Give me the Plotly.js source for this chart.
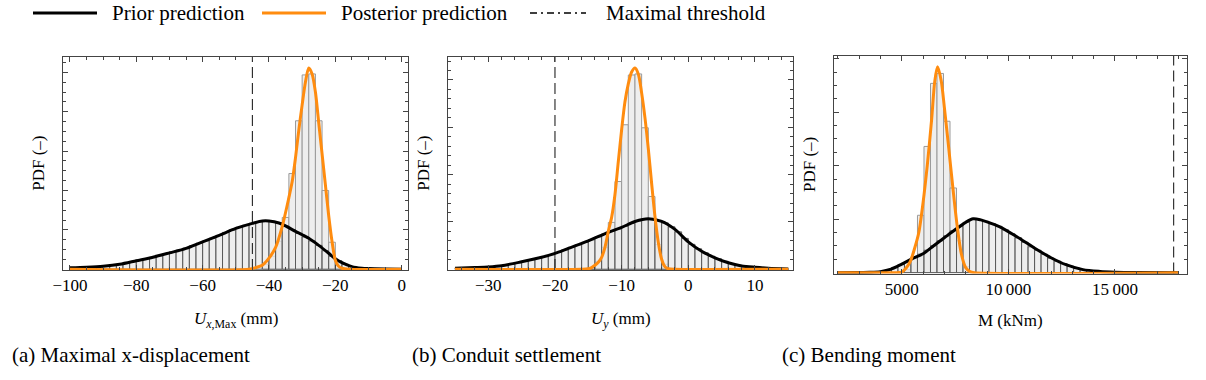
<!DOCTYPE html>
<html>
<head>
<meta charset="utf-8">
<script src="https://cdn.plot.ly/plotly-3.0.1.min.js"></script>
<style>html,body{margin:0;padding:0;background:#fff;}#chart{width:1206px;height:380px;}</style>
</head>
<body>
<div id="chart"></div>
<script>
// ---------- Panel (a): maximal x-displacement U_x,Max (mm) ----------
const aPriorX = [-100,-95,-90,-85,-80,-75,-70,-65,-60,-55,-50,-45,-42,-40,-37,-35,-32,-30,-28,-25,-22,-20,-18,-15,-12,-10,-5,0];
const aPriorY = [0.0007,0.001,0.0015,0.0025,0.0043,0.0061,0.0083,0.0106,0.0139,0.0172,0.0207,0.0233,0.0245,0.0245,0.0235,0.022,0.0192,0.0175,0.0157,0.0121,0.0081,0.0053,0.0033,0.0013,0.0005,0.0003,0.0001,0];
const aPostX = [-100,-46,-44,-42,-40,-38,-36,-34,-33,-32,-31,-30,-29,-28,-27,-26,-25,-24,-23,-22,-21,-20,-19,-18,-16,0];
const aPostY = [0,0,0.0008,0.002,0.0056,0.0111,0.0218,0.0364,0.0445,0.0567,0.0708,0.0835,0.0951,0.1022,0.0992,0.09,0.0744,0.0587,0.043,0.0273,0.0142,0.0046,0.0015,0.0005,0,0];
const aPriorHistX = [-99,-97,-95,-93,-91,-89,-87,-85,-83,-81,-79,-77,-75,-73,-71,-69,-67,-65,-63,-61,-59,-57,-55,-53,-51,-49,-47,-45,-43,-41,-39,-37,-35,-33,-31,-29,-27,-25,-23,-21,-19,-17,-15,-13,-11,-9,-7,-5,-3,-1];
const aPriorHistY = [0.0007,0.0008,0.001,0.0012,0.0014,0.0017,0.002,0.0025,0.003,0.0038,0.0046,0.0053,0.0061,0.0068,0.0078,0.0089,0.0096,0.0106,0.0119,0.0132,0.0144,0.0157,0.0172,0.0187,0.02,0.0213,0.0223,0.0233,0.0243,0.0245,0.0243,0.0235,0.022,0.0202,0.0182,0.0164,0.0144,0.0121,0.0094,0.0066,0.0043,0.0025,0.0013,0.0007,0.0004,0.0002,0.0001,0,0,0];
const aPostHistX = [-41,-39,-37,-35,-33,-31,-29,-27,-25,-23,-21,-19,-17];
const aPostHistY = [0.0025,0.0066,0.0142,0.0263,0.0486,0.0754,0.0987,0.0992,0.0754,0.04,0.0137,0.003,0.0005];
const aBinWidth = 2;

// ---------- Panel (b): conduit settlement U_y (mm) ----------
const bPriorX = [-35,-32,-30,-28,-25,-22,-20,-18,-15,-12,-10,-8,-6,-4,-2,0,2,4,6,8,10,12,15];
const bPriorY = [0.0011,0.0018,0.0024,0.0037,0.0079,0.0126,0.0168,0.0221,0.03,0.039,0.0442,0.0505,0.0534,0.0505,0.0421,0.029,0.019,0.0121,0.0068,0.0035,0.0021,0.0011,0.0003];
const bPostX = [-35,-16,-15,-14.5,-14,-13.5,-13,-12.5,-12,-11.5,-11,-10.5,-10,-9.5,-9,-8.5,-8,-7.5,-7,-6.5,-6,-5.5,-5,-4.5,-4,-3.5,-3,-2,15];
const bPostY = [0,0,0.0005,0.0018,0.0042,0.0074,0.0126,0.0232,0.04,0.0548,0.079,0.1137,0.1474,0.1769,0.1959,0.2085,0.2127,0.2064,0.1864,0.16,0.1274,0.0906,0.0558,0.0284,0.0105,0.0026,0.0005,0,0];
const bPriorHistX = [-34.5,-33.5,-32.5,-31.5,-30.5,-29.5,-28.5,-27.5,-26.5,-25.5,-24.5,-23.5,-22.5,-21.5,-20.5,-19.5,-18.5,-17.5,-16.5,-15.5,-14.5,-13.5,-12.5,-11.5,-10.5,-9.5,-8.5,-7.5,-6.5,-5.5,-4.5,-3.5,-2.5,-1.5,-0.5,0.5,1.5,2.5,3.5,4.5,5.5,6.5,7.5,8.5,9.5,10.5,11.5,12.5,13.5,14.5];
const bPriorHistY = [0.0011,0.0013,0.0016,0.0019,0.0022,0.0027,0.0034,0.0042,0.0053,0.0068,0.0084,0.01,0.0116,0.0134,0.0153,0.0177,0.0205,0.0232,0.0258,0.0284,0.0311,0.0342,0.0374,0.04,0.0426,0.0453,0.0484,0.0511,0.0527,0.0527,0.0516,0.049,0.0448,0.0395,0.0326,0.0263,0.0216,0.0174,0.0137,0.0111,0.0084,0.0061,0.0044,0.0032,0.0023,0.0018,0.0013,0.0008,0.0005,0.0003];
const bPostHistX = [-14.5,-13.5,-12.5,-11.5,-10.5,-9.5,-8.5,-7.5,-6.5,-5.5,-4.5,-3.5,-2.5];
const bPostHistY = [0.0021,0.0084,0.0232,0.0495,0.0927,0.1527,0.2053,0.2064,0.1495,0.0769,0.0263,0.0053,0.0011];
const bBinWidth = 1;

// ---------- Panel (c): bending moment M (kNm) ----------
const cPriorX = [2000,3000,3500,4000,4500,5000,5500,6000,6500,7000,7500,8000,8350,8700,9000,9600,10400,11200,12000,12700,13500,14300,15000,16000,18000];
const cPriorY = [0,5e-7,1.4e-6,4.7e-6,1.63e-5,3.96e-5,6.52e-5,8.84e-5,1.257e-4,1.629e-4,2.002e-4,2.351e-4,2.514e-4,2.467e-4,2.374e-4,2.141e-4,1.676e-4,1.164e-4,6.98e-5,3.72e-5,1.4e-5,5.6e-6,2.3e-6,5e-7,0];
const cPostX = [2000,4800,5000,5200,5400,5600,5800,6000,6200,6400,6550,6680,6850,7000,7200,7400,7600,7800,8000,8200,8400,18000];
const cPostY = [0,0,2.3e-6,2.09e-5,5.12e-5,1.117e-4,1.862e-4,3.259e-4,5.027e-4,7.122e-4,8.938e-4,9.622e-4,8.984e-4,7.727e-4,5.865e-4,3.957e-4,2.188e-4,8.61e-5,2.33e-5,4.7e-6,0,0];
const cPriorHistX = [3452.5,3757.5,4062.5,4367.5,4672.5,4977.5,5282.5,5587.5,5892.5,6197.5,6502.5,6807.5,7112.5,7417.5,7722.5,8027.5,8332.5,8637.5,8942.5,9247.5,9552.5,9857.5,10162.5,10467.5,10772.5,11077.5,11382.5,11687.5,11992.5,12297.5,12602.5,12907.5,13212.5,13517.5,13822.5,14127.5,14432.5,14737.5,15042.5];
const cPriorHistY = [1.4e-6,2.8e-6,5.6e-6,1.26e-5,2.33e-5,3.72e-5,5.12e-5,6.98e-5,8.61e-5,1.047e-4,1.257e-4,1.49e-4,1.722e-4,1.955e-4,2.165e-4,2.351e-4,2.49e-4,2.49e-4,2.397e-4,2.281e-4,2.165e-4,2.002e-4,1.815e-4,1.629e-4,1.42e-4,1.21e-4,1.047e-4,8.61e-5,6.75e-5,5.35e-5,4.19e-5,3.03e-5,2.09e-5,1.4e-5,9.3e-6,6.5e-6,4.7e-6,3.3e-6,2.3e-6];
const cPostHistX = [5282.5,5587.5,5892.5,6197.5,6502.5,6807.5,7112.5,7417.5,7722.5,8027.5,8332.5];
const cPostHistY = [1.4e-5,7.45e-5,2.681e-4,5.898e-4,8.845e-4,9.31e-4,7.076e-4,3.957e-4,1.49e-4,2.79e-5,4.7e-6];
const cBinWidth = 305;
const cTickVals = [5000,10000,15000];
const cTickText = ['5000','10\u2009000','15\u2009000'];

// Maximal thresholds (a, b, c)
const thresholds = [-45, -20, 17750];

// Texts
const legendLabels = ['Prior prediction','Posterior prediction','Maximal threshold'];
const captions = ['(a) Maximal x-displacement','(b) Conduit settlement','(c) Bending moment'];
const xTitles = ['<i>U</i><sub><i>x</i>,Max</sub> (mm)','<i>U</i><sub><i>y</i></sub> (mm)','M (kNm)'];
const yTitle = 'PDF (\u2013)';

// ---------- drawing ----------
const FONT = '"Liberation Serif", "Times New Roman", Times, serif';
const W = 1206, H = 380;
const ORANGE = '#ff8c0f';
const px = v => v / W;
const py = v => 1 - v / H;

const panels = [
  {k:'', priorX:aPriorX, priorY:aPriorY, postX:aPostX, postY:aPostY, phX:aPriorHistX, phY:aPriorHistY, qhX:aPostHistX, qhY:aPostHistY, bw:aBinWidth,
   xr:[-102,2], yr:[-0.0004,0.1078], left:63.3, right:408.3, top:57, bottom:270, xd:20, xm:5, yd:0.02, ym:0.005},
  {k:'2', priorX:bPriorX, priorY:bPriorY, postX:bPostX, postY:bPostY, phX:bPriorHistX, phY:bPriorHistY, qhX:bPostHistX, qhY:bPostHistY, bw:bBinWidth,
   xr:[-36,15.75], yr:[-0.0008,0.2243], left:448.3, right:793.3, top:57, bottom:270, xd:10, xm:2, yd:0.05, ym:0.01},
  {k:'3', priorX:cPriorX, priorY:cPriorY, postX:cPostX, postY:cPostY, phX:cPriorHistX, phY:cPriorHistY, qhX:cPostHistX, qhY:cPostHistY, bw:cBinWidth,
   xr:[1840,18390], yr:[-0.000004,0.0010125], left:834.3, right:1187.3, top:56, bottom:273.5, xd:5000, xm:1000, yd:0.00025, ym:0.0000625}
];

const traces = [];
const layout = {
  width: W, height: H,
  margin: {l:0, r:0, t:0, b:0},
  paper_bgcolor: '#fff', plot_bgcolor: '#fff',
  showlegend: false,
  barmode: 'overlay', bargap: 0,
  font: {family: FONT, size: 17, color: '#000'},
  annotations: [], shapes: []
};

panels.forEach((p, i) => {
  const xa = 'x' + p.k, ya = 'y' + p.k;
  traces.push({type:'bar', x:p.qhX, y:p.qhY, width:p.bw, xaxis:xa, yaxis:ya,
    marker:{color:'rgba(236,236,236,0.9)', line:{color:'#9a9a9a', width:1}}, hoverinfo:'skip'});
  traces.push({type:'bar', x:p.phX, y:p.phY, width:p.bw, xaxis:xa, yaxis:ya,
    marker:{color:'rgba(232,232,232,0.75)', line:{color:'#5a5a5a', width:1}}, hoverinfo:'skip'});
  traces.push({type:'scatter', mode:'lines', x:[thresholds[i], thresholds[i]], y:[p.yr[0], p.yr[1]], xaxis:xa, yaxis:ya,
    line:{color:'#222', width:1.1, dash:'11px,5px'}, hoverinfo:'skip'});
  traces.push({type:'scatter', mode:'lines', x:p.priorX, y:p.priorY, xaxis:xa, yaxis:ya,
    line:{color:'#000', width:3, shape:'spline', smoothing:0.8}});
  traces.push({type:'scatter', mode:'lines', x:p.postX, y:p.postY, xaxis:xa, yaxis:ya,
    line:{color:ORANGE, width:3, shape:'spline', smoothing:0.8}});

  const xaxis = {
    domain:[px(p.left), px(p.right)], range:p.xr, anchor:ya,
    showline:true, linecolor:'#444', linewidth:1, mirror:'ticks',
    ticks:'inside', ticklen:5, tickcolor:'#444', tickwidth:1,
    minor:{dtick:p.xm, ticks:'inside', ticklen:3, tickcolor:'#444', tickwidth:1, showgrid:false},
    showgrid:false, zeroline:false,
    tickfont:{family:FONT, size:17, color:'#000'}, ticklabelstandoff:0
  };
  if (i === 2) { xaxis.tickmode='array'; xaxis.tickvals=cTickVals; xaxis.ticktext=cTickText; }
  else { xaxis.tick0 = 0; xaxis.dtick = p.xd; }
  const yaxis = {
    domain:[py(p.bottom), py(p.top)], range:p.yr, anchor:xa,
    showline:true, linecolor:'#444', linewidth:1, mirror:'ticks',
    ticks:'inside', ticklen:5, tickcolor:'#444', tickwidth:1,
    tick0:0, dtick:p.yd, showticklabels:false,
    minor:{dtick:p.ym, ticks:'inside', ticklen:3, tickcolor:'#444', tickwidth:1, showgrid:false},
    showgrid:false, zeroline:false
  };
  layout['xaxis' + p.k] = xaxis;
  layout['yaxis' + p.k] = yaxis;

  // axis titles
  layout.annotations.push({xref:'paper', yref:'paper', x:px((p.left + p.right)/2), y:py(320), xanchor:'center', yanchor:'middle',
    text:xTitles[i], showarrow:false, font:{family:FONT, size:17, color:'#000'}});
  layout.annotations.push({xref:'paper', yref:'paper', x:px(p.left - 25), y:py((p.top + p.bottom)/2), xanchor:'center', yanchor:'middle',
    text:yTitle, textangle:-90, showarrow:false, font:{family:FONT, size:17, color:'#000'}});
});

// captions
const capX = [10, 410, 780];
captions.forEach((c, i) => layout.annotations.push({xref:'paper', yref:'paper', x:px(capX[i]), y:py(355), xanchor:'left', yanchor:'middle',
  text:c, showarrow:false, font:{family:FONT, size:21, color:'#000'}}));

// legend (drawn manually)
const legY = py(13);
const legLines = [[33, 97, '#000', 'solid', 3], [262, 326, ORANGE, 'solid', 3], [530, 586, '#000', '7px,4px,2px,4px', 1.5]];
const legTextX = [110, 339, 604];
legLines.forEach((l, i) => {
  layout.shapes.push({type:'line', xref:'paper', yref:'paper', x0:px(l[0]), x1:px(l[1]), y0:legY, y1:legY, line:{color:l[2], width:l[4], dash:l[3]}});
  layout.annotations.push({xref:'paper', yref:'paper', x:px(legTextX[i]), y:legY, xanchor:'left', yanchor:'middle',
    text:legendLabels[i], showarrow:false, font:{family:FONT, size:21, color:'#000'}});
});

Plotly.newPlot('chart', traces, layout, {staticPlot:true, displayModeBar:false});
</script>
</body>
</html>
